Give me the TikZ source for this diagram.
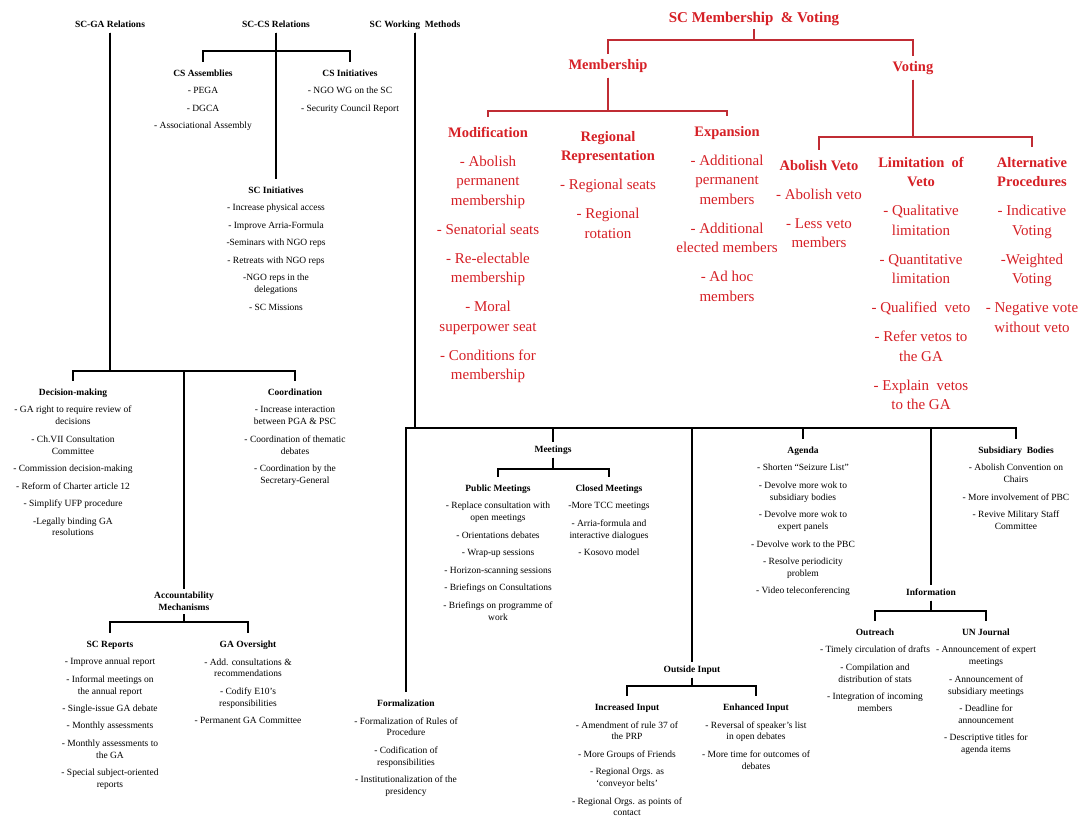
\documentclass[tikz,border=0pt]{standalone}
\usepackage{fontspec}
\setmainfont{Liberation Serif}
\definecolor{rtx}{RGB}{214,32,38}
\definecolor{rln}{RGB}{192,44,52}
\newcommand\bkf{\fontsize{9.5}{11.8}\selectfont}
\newcommand\rdf{\fontsize{15}{19.5}\selectfont}
\newcommand\rdh{\fontsize{14.5}{19.5}\selectfont\bfseries}
\begin{document}
\begin{tikzpicture}[x=1pt,y=-1pt,
 hdr/.style={font=\bkf\bfseries, text height=6.8pt, text depth=2pt, inner xsep=2pt, inner ysep=3pt},
 grp/.style={anchor=north, align=center, font=\bkf, inner xsep=1pt, inner ysep=8.2pt},
 rpar/.style={font=\rdh, text=rtx, text height=10pt, text depth=3pt, inner ysep=5pt},
 rgrp/.style={anchor=north, align=center, font=\rdf, text=rtx, inner xsep=1pt, inner ysep=10pt},
 bl/.style={line width=1.1pt, draw=black},
 rl/.style={line width=1.3pt, draw=rln},
]
\fill[white] (0,0) rectangle (1079,819);
\useasboundingbox (0,0) rectangle (1079,819);

% ---------------- bar coordinates
\coordinate (csbar) at (0,51);
\coordinate (gabar) at (0,371);
\coordinate (accbar) at (0,622);
\coordinate (wmbar) at (0,428);
\coordinate (meetbar) at (0,469);
\coordinate (infobar) at (0,611);
\coordinate (oinbar) at (0,686);
\coordinate (tbar) at (0,40);
\coordinate (membar) at (0,111);
\coordinate (votbar) at (0,137);

% ---------------- black parents
\node[hdr] (scga) at (110,25) {SC-GA Relations};
\node[hdr] (sccs) at (276,25) {SC-CS Relations};
\node[hdr] (scwm) at (415,25) {SC Working\ \ Methods};
\node[font=\bkf\bfseries, align=center, inner ysep=3pt] (acc) at (184,601.6) {Accountability\\Mechanisms};
\node[hdr] (meet) at (553,450) {Meetings};
\node[hdr] (info) at (931,593) {Information};
\node[hdr] (oin) at (692,670) {Outside Input};

% ---------------- black groups
\node[grp] (csa) at (203,61.5) {{\bfseries CS Assemblies}\\[5.7pt]- PEGA\\[5.7pt]- DGCA\\[5.7pt]- Associational Assembly};
\node[grp] (csi) at (350,61.5) {{\bfseries CS Initiatives}\\[5.7pt]- NGO WG on the SC\\[5.7pt]- Security Council Report};
\node[grp] (sci) at (276,178.5) {{\bfseries SC Initiatives}\\[5.7pt]- Increase physical access\\[5.7pt]- Improve Arria-Formula\\[5.7pt]-Seminars with NGO reps\\[5.7pt]- Retreats with NGO reps\\[5.7pt]-NGO reps in the\\delegations\\[5.7pt]- SC Missions};
\node[grp] (dm) at (73,380.5) {{\bfseries Decision-making}\\[5.7pt]- GA right to require review of\\decisions\\[5.7pt]- Ch.VII Consultation\\Committee\\[5.7pt]- Commission decision-making\\[5.7pt]- Reform of Charter article 12\\[5.7pt]- Simplify UFP procedure\\[5.7pt]-Legally binding GA\\resolutions};
\node[grp] (coo) at (295,380.5) {{\bfseries Coordination}\\[5.7pt]- Increase interaction\\between PGA \& PSC\\[5.7pt]- Coordination of thematic\\debates\\[5.7pt]- Coordination by the\\Secretary-General};
\node[grp] (scr) at (110,632.5) {{\bfseries SC Reports}\\[5.7pt]- Improve annual report\\[5.7pt]- Informal meetings on\\the annual report\\[5.7pt]- Single-issue GA debate\\[5.7pt]- Monthly assessments\\[5.7pt]- Monthly assessments to\\the GA\\[5.7pt]- Special subject-oriented\\reports};
\node[grp] (gao) at (248,632.5) {{\bfseries GA Oversight}\\[5.7pt]- Add. consultations \&\\recommendations\\[5.7pt]- Codify E10’s\\responsibilities\\[5.7pt]- Permanent GA Committee};
\node[grp] (form) at (406,691.5) {{\bfseries Formalization}\\[5.7pt]- Formalization of Rules of\\Procedure\\[5.7pt]- Codification of\\responsibilities\\[5.7pt]- Institutionalization of the\\presidency};
\node[grp] (pub) at (498,476.5) {{\bfseries Public Meetings}\\[5.7pt]- Replace consultation with\\open meetings\\[5.7pt]- Orientations debates\\[5.7pt]- Wrap-up sessions\\[5.7pt]- Horizon-scanning sessions\\[5.7pt]- Briefings on Consultations\\[5.7pt]- Briefings on programme of\\work};
\node[grp] (clo) at (609,476.5) {{\bfseries Closed Meetings}\\[5.7pt]-More TCC meetings\\[5.7pt]- Arria-formula and\\interactive dialogues\\[5.7pt]- Kosovo model};
\node[grp] (age) at (803,438.5) {{\bfseries Agenda}\\[5.7pt]- Shorten “Seizure List”\\[5.7pt]- Devolve more wok to\\subsidiary bodies\\[5.7pt]- Devolve more wok to\\expert panels\\[5.7pt]- Devolve work to the PBC\\[5.7pt]- Resolve periodicity\\problem\\[5.7pt]- Video teleconferencing};
\node[grp] (sub) at (1016,438.5) {{\bfseries Subsidiary\ \ Bodies}\\[5.7pt]- Abolish Convention on\\Chairs\\[5.7pt]- More involvement of PBC\\[5.7pt]- Revive Military Staff\\Committee};
\node[grp] (out) at (875,620.5) {{\bfseries Outreach}\\[5.7pt]- Timely circulation of drafts\\[5.7pt]- Compilation and\\distribution of stats\\[5.7pt]- Integration of incoming\\members};
\node[grp] (unj) at (986,620.5) {{\bfseries UN Journal}\\[5.7pt]- Announcement of expert\\meetings\\[5.7pt]- Announcement of\\subsidiary meetings\\[5.7pt]- Deadline for\\announcement\\[5.7pt]- Descriptive titles for\\agenda items};
\node[grp] (inc) at (627,695.5) {{\bfseries Increased Input}\\[5.7pt]- Amendment of rule 37 of\\the PRP\\[5.7pt]- More Groups of Friends\\[5.7pt]- Regional Orgs. as\\‘conveyor belts’\\[5.7pt]- Regional Orgs. as points of\\contact};
\node[grp] (enh) at (756,695.5) {{\bfseries Enhanced Input}\\[5.7pt]- Reversal of speaker’s list\\in open debates\\[5.7pt]- More time for outcomes of\\debates};

% ---------------- black connectors
\draw[bl] (sccs.south) -- (sci.north);
\draw[bl] (sccs.south) -- (sccs.south |- csbar) -| (csa.north);
\draw[bl] (sccs.south) -- (sccs.south |- csbar) -| (csi.north);
\draw[bl] (scga.south) -- (scga.south |- gabar) -| (dm.north);
\draw[bl] (scga.south) -- (scga.south |- gabar) -| (coo.north);
\draw[bl] (scga.south) -- (scga.south |- gabar) -| (acc.north);
\draw[bl] (acc.south) -- (acc.south |- accbar) -| (scr.north);
\draw[bl] (acc.south) -- (acc.south |- accbar) -| (gao.north);
\draw[bl] (scwm.south) -- (scwm.south |- wmbar) -| (form.north);
\draw[bl] (scwm.south) -- (scwm.south |- wmbar) -| (meet.north);
\draw[bl] (scwm.south) -- (scwm.south |- wmbar) -| (oin.north);
\draw[bl] (scwm.south) -- (scwm.south |- wmbar) -| (age.north);
\draw[bl] (scwm.south) -- (scwm.south |- wmbar) -| (info.north);
\draw[bl] (scwm.south) -- (scwm.south |- wmbar) -| (sub.north);
\draw[bl] (meet.south) -- (meet.south |- meetbar) -| (pub.north);
\draw[bl] (meet.south) -- (meet.south |- meetbar) -| (clo.north);
\draw[bl] (info.south) -- (info.south |- infobar) -| (out.north);
\draw[bl] (info.south) -- (info.south |- infobar) -| (unj.north);
\draw[bl] (oin.south) -- (oin.south |- oinbar) -| (inc.north);
\draw[bl] (oin.south) -- (oin.south |- oinbar) -| (enh.north);

% ---------------- red part
\node[rpar, font=\fontsize{15}{18}\selectfont\bfseries, text height=10.5pt, text depth=3.2pt, inner ysep=3pt] (title) at (754,19) {SC Membership\ \ \& Voting};
\node[rpar] (mem) at (608,66) {Membership};
\node[rpar] (vot) at (913,68) {Voting};

\node[rgrp] (mod) at (488,117) {{\rdh Modification}\\[9.5pt]- Abolish\\permanent\\membership\\[9.5pt]- Senatorial seats\\[9.5pt]- Re-electable\\membership\\[9.5pt]- Moral\\superpower seat\\[9.5pt]- Conditions for\\membership};
\node[rgrp] (reg) at (608,121) {{\rdh Regional}\\{\rdh Representation}\\[9.5pt]- Regional seats\\[9.5pt]- Regional\\rotation};
\node[rgrp] (exp) at (727,116) {{\rdh Expansion}\\[9.5pt]- Additional\\permanent\\members\\[9.5pt]- Additional\\elected members\\[9.5pt]- Ad hoc\\members};
\node[rgrp] (abv) at (819,150) {{\rdh Abolish Veto}\\[9.5pt]- Abolish veto\\[9.5pt]- Less veto\\members};
\node[rgrp] (lim) at (921,147) {{\rdh Limitation\ \ of}\\{\rdh Veto}\\[9.5pt]- Qualitative\\limitation\\[9.5pt]- Quantitative\\limitation\\[9.5pt]- Qualified\ \ veto\\[9.5pt]- Refer vetos to\\the GA\\[9.5pt]- Explain\ \ vetos\\to the GA};
\node[rgrp] (alt) at (1032,147) {{\rdh Alternative}\\{\rdh Procedures}\\[9.5pt]- Indicative\\Voting\\[9.5pt]-Weighted\\Voting\\[9.5pt]- Negative vote\\without veto};

\draw[rl] (title.south) -- (title.south |- tbar) -| (mem.north);
\draw[rl] (title.south) -- (title.south |- tbar) -| (vot.north);
\draw[rl] (mem.south) -- (mem.south |- membar) -| (mod.north);
\draw[rl] (mem.south) -- (mem.south |- membar) -| (exp.north);
\draw[rl] (vot.south) -- (vot.south |- votbar) -| (abv.north);
\draw[rl] (vot.south) -- (vot.south |- votbar) -| (alt.north);
\end{tikzpicture}
\end{document}
